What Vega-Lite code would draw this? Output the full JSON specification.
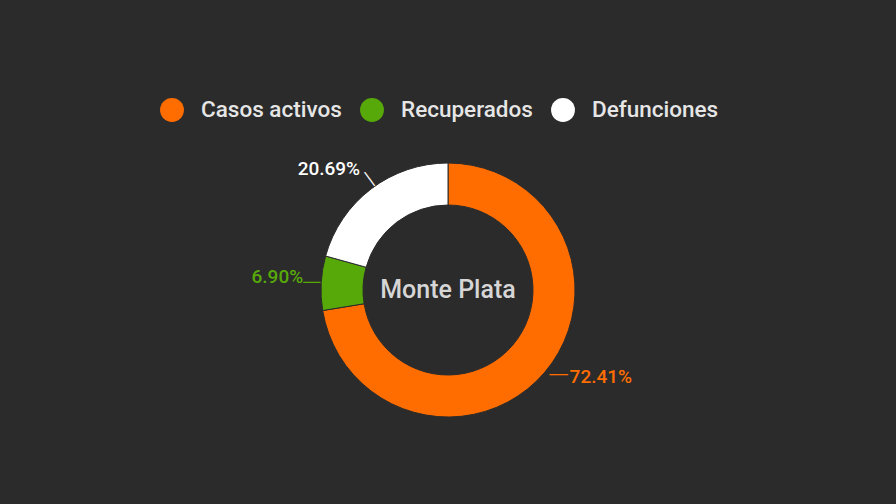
{
  "$schema": "https://vega.github.io/schema/vega-lite/v6.json",
  "width": 896,
  "height": 428,
  "autosize": {"type": "none"},
  "padding": {"left": 0, "right": 0, "top": 76, "bottom": 0},
  "background": "#2b2b2b",
  "config": {
    "view": {"stroke": null},
    "font": "Roboto",
    "legend": {
      "orient": "none",
      "legendX": 160,
      "legendY": 22,
      "direction": "horizontal",
      "symbolType": "circle",
      "symbolSize": 570,
      "symbolStrokeWidth": 0,
      "labelFontSize": 22.5,
      "labelFontWeight": 500,
      "labelFont": "Roboto",
      "labelColor": "#e6e6e6",
      "labelOffset": 17,
      "columnPadding": 18,
      "padding": 0,
      "title": null
    }
  },
  "data": {
    "values": [
      {"cat": "Casos activos", "count": 21, "order": 1, "label": "72.41%"},
      {"cat": "Recuperados", "count": 2, "order": 2, "label": "6.90%"},
      {"cat": "Defunciones", "count": 6, "order": 3, "label": "20.69%"}
    ]
  },
  "encoding": {
    "theta": {"field": "count", "type": "quantitative", "stack": true},
    "order": {"field": "order", "type": "quantitative"},
    "color": {
      "field": "cat",
      "type": "nominal",
      "sort": ["Casos activos", "Recuperados", "Defunciones"],
      "scale": {"domain": ["Casos activos", "Recuperados", "Defunciones"], "range": ["#ff6d00", "#57a90a", "#ffffff"]},
      "legend": {"title": null}
    }
  },
  "layer": [
    {
      "mark": {"type": "arc", "innerRadius": 85, "outerRadius": 127, "stroke": "#2b2b2b", "strokeWidth": 1}
    },
    {
      "mark": {"type": "text", "radius": 132, "align": "left", "baseline": "middle", "dx": 21, "dy": 2, "fontSize": 19, "fontWeight": 500, "font": "Roboto"},
      "encoding": {"text": {"condition": {"test": "datum.cat == 'Casos activos'", "field": "label"}, "value": ""}}
    },
    {
      "mark": {"type": "text", "radius": 132, "align": "right", "baseline": "middle", "dx": -13, "dy": -6, "fontSize": 19, "fontWeight": 500, "font": "Roboto"},
      "encoding": {"text": {"condition": {"test": "datum.cat == 'Recuperados'", "field": "label"}, "value": ""}}
    },
    {
      "mark": {"type": "text", "radius": 132, "align": "right", "baseline": "middle", "dx": -8, "dy": -16, "fontSize": 19, "fontWeight": 500, "font": "Roboto"},
      "encoding": {"text": {"condition": {"test": "datum.cat == 'Defunciones'", "field": "label"}, "value": ""}}
    },
    {
      "mark": {"type": "text", "radius": 132, "align": "left", "baseline": "middle", "dx": 1, "dy": 0, "fontSize": 15, "font": "DejaVu Sans Mono"},
      "encoding": {"text": {"condition": {"test": "datum.cat == 'Casos activos'", "value": "──"}, "value": ""}}
    },
    {
      "mark": {"type": "text", "radius": 132, "align": "right", "baseline": "middle", "dx": 4, "dy": 0, "fontSize": 14, "font": "DejaVu Sans Mono"},
      "encoding": {"text": {"condition": {"test": "datum.cat == 'Recuperados'", "value": "──"}, "value": ""}}
    },
    {
      "mark": {"type": "text", "radius": 133, "align": "center", "baseline": "middle", "dx": -3, "dy": -4, "angle": 54, "fontSize": 14, "font": "DejaVu Sans Mono"},
      "encoding": {"text": {"condition": {"test": "datum.cat == 'Defunciones'", "value": "──"}, "value": ""}}
    },
    {
      "data": {"values": [{"region": "Monte Plata"}]},
      "mark": {"type": "text", "x": {"expr": "width/2"}, "y": {"expr": "height/2"}, "align": "center", "baseline": "middle", "fontSize": 25, "fontWeight": 500, "font": "Roboto", "color": "#d6d6d6"},
      "encoding": {"text": {"field": "region"}, "theta": null, "order": null, "color": null}
    }
  ]
}
